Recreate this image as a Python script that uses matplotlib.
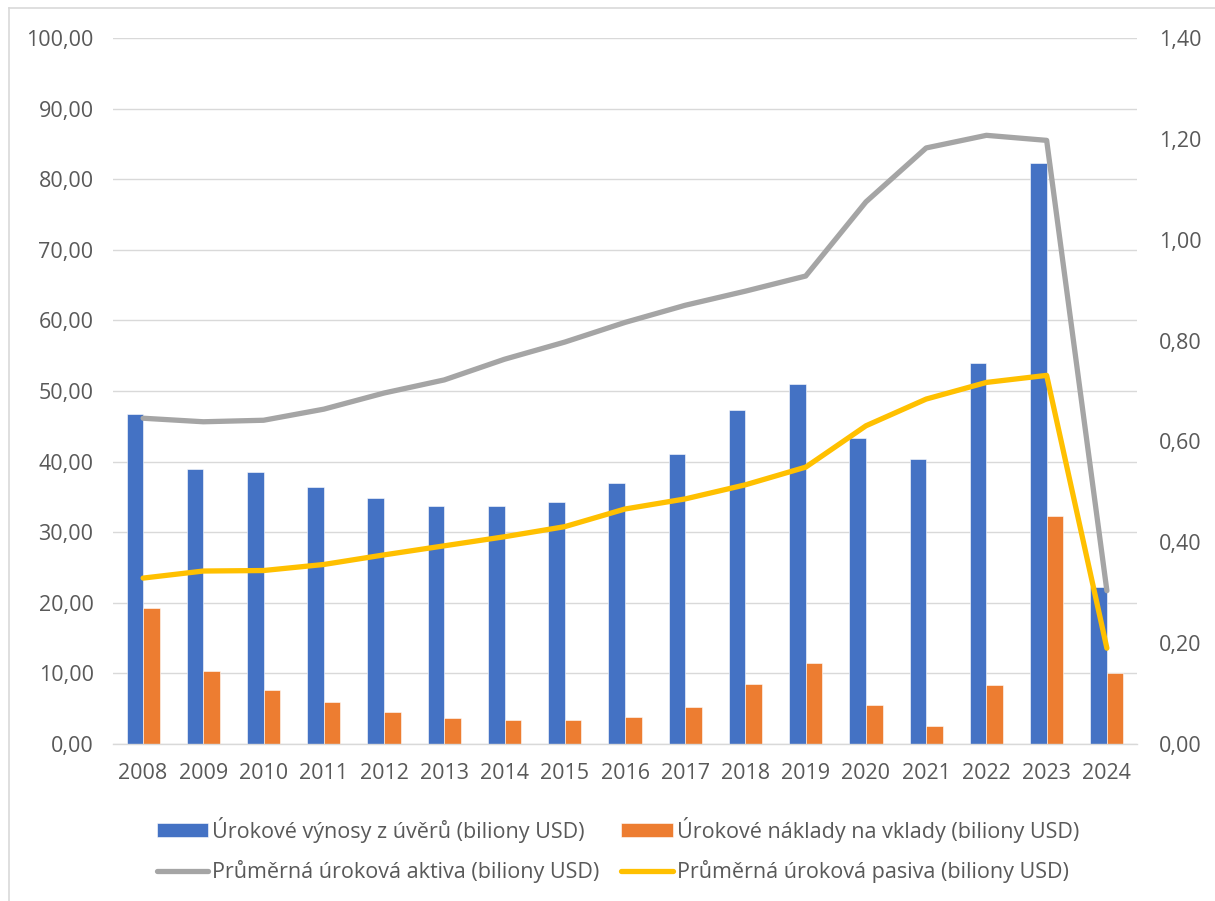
import numpy as np
import matplotlib
matplotlib.use('Agg')
import matplotlib.pyplot as plt
from matplotlib.lines import Line2D
from matplotlib.ticker import FuncFormatter

plt.rcParams['font.family'] = ['Open Sans', 'DejaVu Sans']

# Data
years = ['2008', '2009', '2010', '2011', '2012', '2013', '2014', '2015', '2016',
         '2017', '2018', '2019', '2020', '2021', '2022', '2023', '2024']
vynosy = [46.7, 39.0, 38.5, 36.4, 34.8, 33.7, 33.7, 34.3, 37.0,
          41.1, 47.3, 51.0, 43.3, 40.4, 54.0, 82.3, 22.2]
naklady = [19.2, 10.3, 7.6, 6.0, 4.6, 3.7, 3.35, 3.35, 3.8,
           5.2, 8.5, 11.5, 5.5, 2.6, 8.4, 32.3, 10.0]
aktiva = [0.646, 0.639, 0.642, 0.664, 0.696, 0.722, 0.763, 0.797, 0.836,
          0.870, 0.898, 0.928, 1.075, 1.182, 1.207, 1.197, 0.304]
pasiva = [0.329, 0.343, 0.344, 0.356, 0.375, 0.393, 0.411, 0.431, 0.466,
          0.486, 0.514, 0.549, 0.631, 0.684, 0.717, 0.731, 0.190]

labels = ['Úrokové výnosy z úvěrů (biliony USD)',
          'Úrokové náklady na vklady (biliony USD)',
          'Průměrná úroková aktiva (biliony USD)',
          'Průměrná úroková pasiva (biliony USD)']

blue = '#4472C4'
orange = '#ED7D31'
gray = '#A5A5A5'
yellow = '#FFC000'
text_col = '#595959'
grid_col = '#D9D9D9'
fs = 15.5

W, H = 1215, 901
fig = plt.figure(figsize=(W / 100, H / 100), dpi=100)
ax = fig.add_axes([113 / W, 1 - 744 / H, 1024 / W, 706 / H])
ax2 = ax.twinx()

x = np.arange(len(years))
bw = 0.275
b1 = ax.bar(x - bw / 2, vynosy, bw, color=blue, edgecolor='white', linewidth=0.4, zorder=2)
b2 = ax.bar(x + bw / 2, naklady, bw, color=orange, edgecolor='white', linewidth=0.4, zorder=2)

l1, = ax2.plot(x, aktiva, color=gray, lw=3.8, solid_capstyle='round', solid_joinstyle='round')
l2, = ax2.plot(x, pasiva, color=yellow, lw=3.8, solid_capstyle='round', solid_joinstyle='round')

ax.set_xlim(-0.5, len(years) - 0.5)
ax.set_ylim(0, 100)
ax2.set_ylim(0, 1.4)
ax.set_yticks(np.arange(0, 101, 10))
ax2.set_yticks(np.arange(0, 1.41, 0.2))
ax.yaxis.set_major_formatter(FuncFormatter(lambda v, p: f'{v:.2f}'.replace('.', ',')))
ax2.yaxis.set_major_formatter(FuncFormatter(lambda v, p: f'{v:.2f}'.replace('.', ',')))
ax.set_xticks(x)
ax.set_xticklabels(years)

ax.grid(axis='y', color=grid_col, lw=1.0)
ax.set_axisbelow(True)

for a in (ax, ax2):
    for s in a.spines.values():
        s.set_visible(False)
ax.spines['bottom'].set_visible(True)
ax.spines['bottom'].set_color(grid_col)
ax.spines['bottom'].set_linewidth(1.0)

ax.tick_params(axis='x', length=0, pad=14, labelsize=fs, labelcolor=text_col)
ax.tick_params(axis='y', length=0, pad=14, labelsize=fs, labelcolor=text_col)
ax2.tick_params(axis='y', length=0, pad=16, labelsize=fs, labelcolor=text_col)

handles = [b1, l1, b2, l2]
leg_labels = [labels[0], labels[2], labels[1], labels[3]]
fig.legend(handles, leg_labels, loc='center', bbox_to_anchor=(618 / W, 1 - 850 / H),
           ncol=2, frameon=False, fontsize=fs, labelcolor=text_col,
           handlelength=2.4, handleheight=0.6, handletextpad=0.2,
           columnspacing=1.0, labelspacing=0.8)

# light chart border (cut off at right/bottom in the reference)
fig.add_artist(Line2D([9 / W, 1], [1 - 8 / H, 1 - 8 / H], color=grid_col, lw=1.2))
fig.add_artist(Line2D([9 / W, 9 / W], [0, 1 - 8 / H], color=grid_col, lw=1.2))

fig.savefig('out.png', dpi=100)
